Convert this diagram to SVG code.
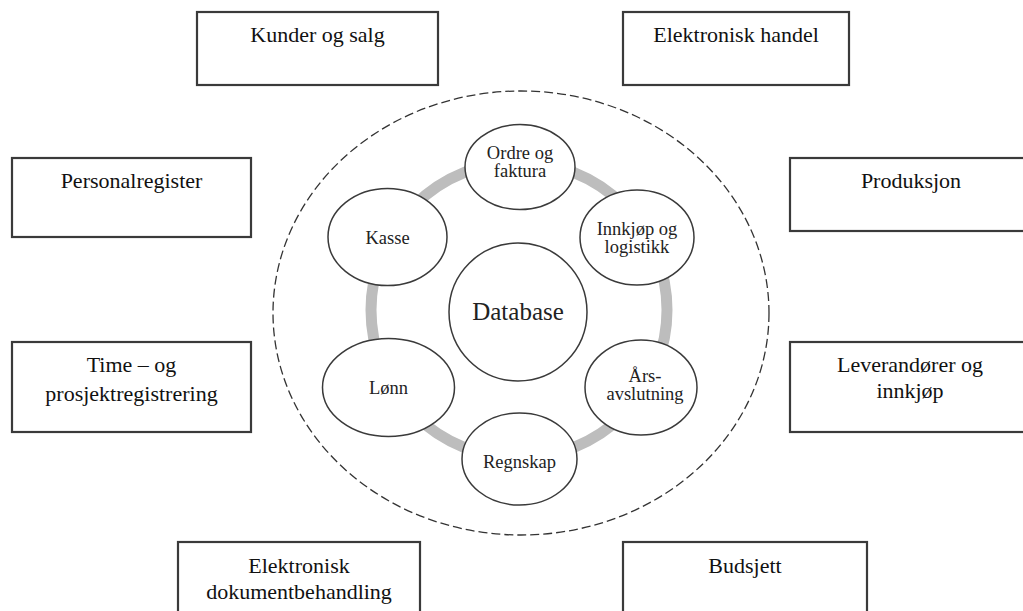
<svg xmlns="http://www.w3.org/2000/svg" width="1023" height="611" viewBox="0 0 1023 611">
  <style>
    .box { fill: #ffffff; stroke: #3a3a3a; stroke-width: 2.2; }
    .bt { font-family: "Liberation Serif", "Times New Roman", serif; font-size: 22px; fill: #111; text-anchor: middle; }
    .mod { fill: #ffffff; stroke: #3a3a3a; stroke-width: 1.5; }
    .mt { font-family: "Liberation Serif", "Times New Roman", serif; font-size: 18.5px; fill: #222; text-anchor: middle; }
    .ring { fill: none; stroke: #bdbdbd; stroke-width: 11; }
    .scope { fill: none; stroke: #333; stroke-width: 1.3; stroke-dasharray: 9 4; }
  </style>
  <rect width="1023" height="611" fill="#ffffff"/>

  <!-- system boundary and integration ring -->
  <g id="connectors">
    <ellipse class="scope" cx="521" cy="313" rx="248" ry="222"/>
    <circle class="ring" cx="519" cy="310" r="148"/>
  </g>

  <!-- surrounding applications -->
  <g id="kunder">
    <rect class="box" x="197" y="12" width="241" height="73"/>
    <text class="bt" x="317.5" y="42">Kunder og salg</text>
  </g>
  <g id="ehandel">
    <rect class="box" x="623" y="12" width="226" height="73"/>
    <text class="bt" x="736" y="42">Elektronisk handel</text>
  </g>
  <g id="personal">
    <rect class="box" x="12" y="158" width="239" height="79"/>
    <text class="bt" x="131.5" y="188">Personalregister</text>
  </g>
  <g id="produksjon">
    <rect class="box" x="790" y="158" width="245" height="73"/>
    <text class="bt" x="911" y="188">Produksjon</text>
  </g>
  <g id="time">
    <rect class="box" x="12" y="342" width="239" height="90"/>
    <text class="bt" x="131.5" y="372">Time – og</text>
    <text class="bt" x="131.5" y="401">prosjektregistrering</text>
  </g>
  <g id="leverandorer">
    <rect class="box" x="790" y="342" width="245" height="90"/>
    <text class="bt" x="910" y="372">Leverandører og</text>
    <text class="bt" x="910" y="398">innkjøp</text>
  </g>
  <g id="dokument">
    <rect class="box" x="178" y="542" width="242" height="80"/>
    <text class="bt" x="299" y="573">Elektronisk</text>
    <text class="bt" x="299" y="599">dokumentbehandling</text>
  </g>
  <g id="budsjett">
    <rect class="box" x="623" y="542" width="244" height="80"/>
    <text class="bt" x="745" y="573">Budsjett</text>
  </g>

  <!-- core modules -->
  <g id="ordre">
    <ellipse class="mod" cx="520" cy="167" rx="55" ry="42.5"/>
    <text class="mt" x="520" y="159">Ordre og</text>
    <text class="mt" x="520" y="177">faktura</text>
  </g>
  <g id="innkjop">
    <ellipse class="mod" cx="637" cy="237.5" rx="57" ry="47.5"/>
    <text class="mt" x="637" y="235">Innkjøp og</text>
    <text class="mt" x="637" y="253">logistikk</text>
  </g>
  <g id="arsavslutning">
    <ellipse class="mod" cx="641" cy="387.5" rx="56" ry="47.5"/>
    <text class="mt" x="645" y="382">Års-</text>
    <text class="mt" x="645" y="400">avslutning</text>
  </g>
  <g id="regnskap">
    <ellipse class="mod" cx="519.5" cy="459" rx="57.5" ry="46"/>
    <text class="mt" x="519.5" y="468">Regnskap</text>
  </g>
  <g id="lonn">
    <ellipse class="mod" cx="388.5" cy="387.5" rx="66" ry="49"/>
    <text class="mt" x="388.5" y="394">Lønn</text>
  </g>
  <g id="kasse">
    <ellipse class="mod" cx="387.5" cy="237" rx="59.5" ry="48.5"/>
    <text class="mt" x="387.5" y="244">Kasse</text>
  </g>
  <g id="database">
    <circle class="mod" cx="518" cy="312" r="69"/>
    <text class="mt" x="518" y="320" style="font-size:25px">Database</text>
  </g>
</svg>
